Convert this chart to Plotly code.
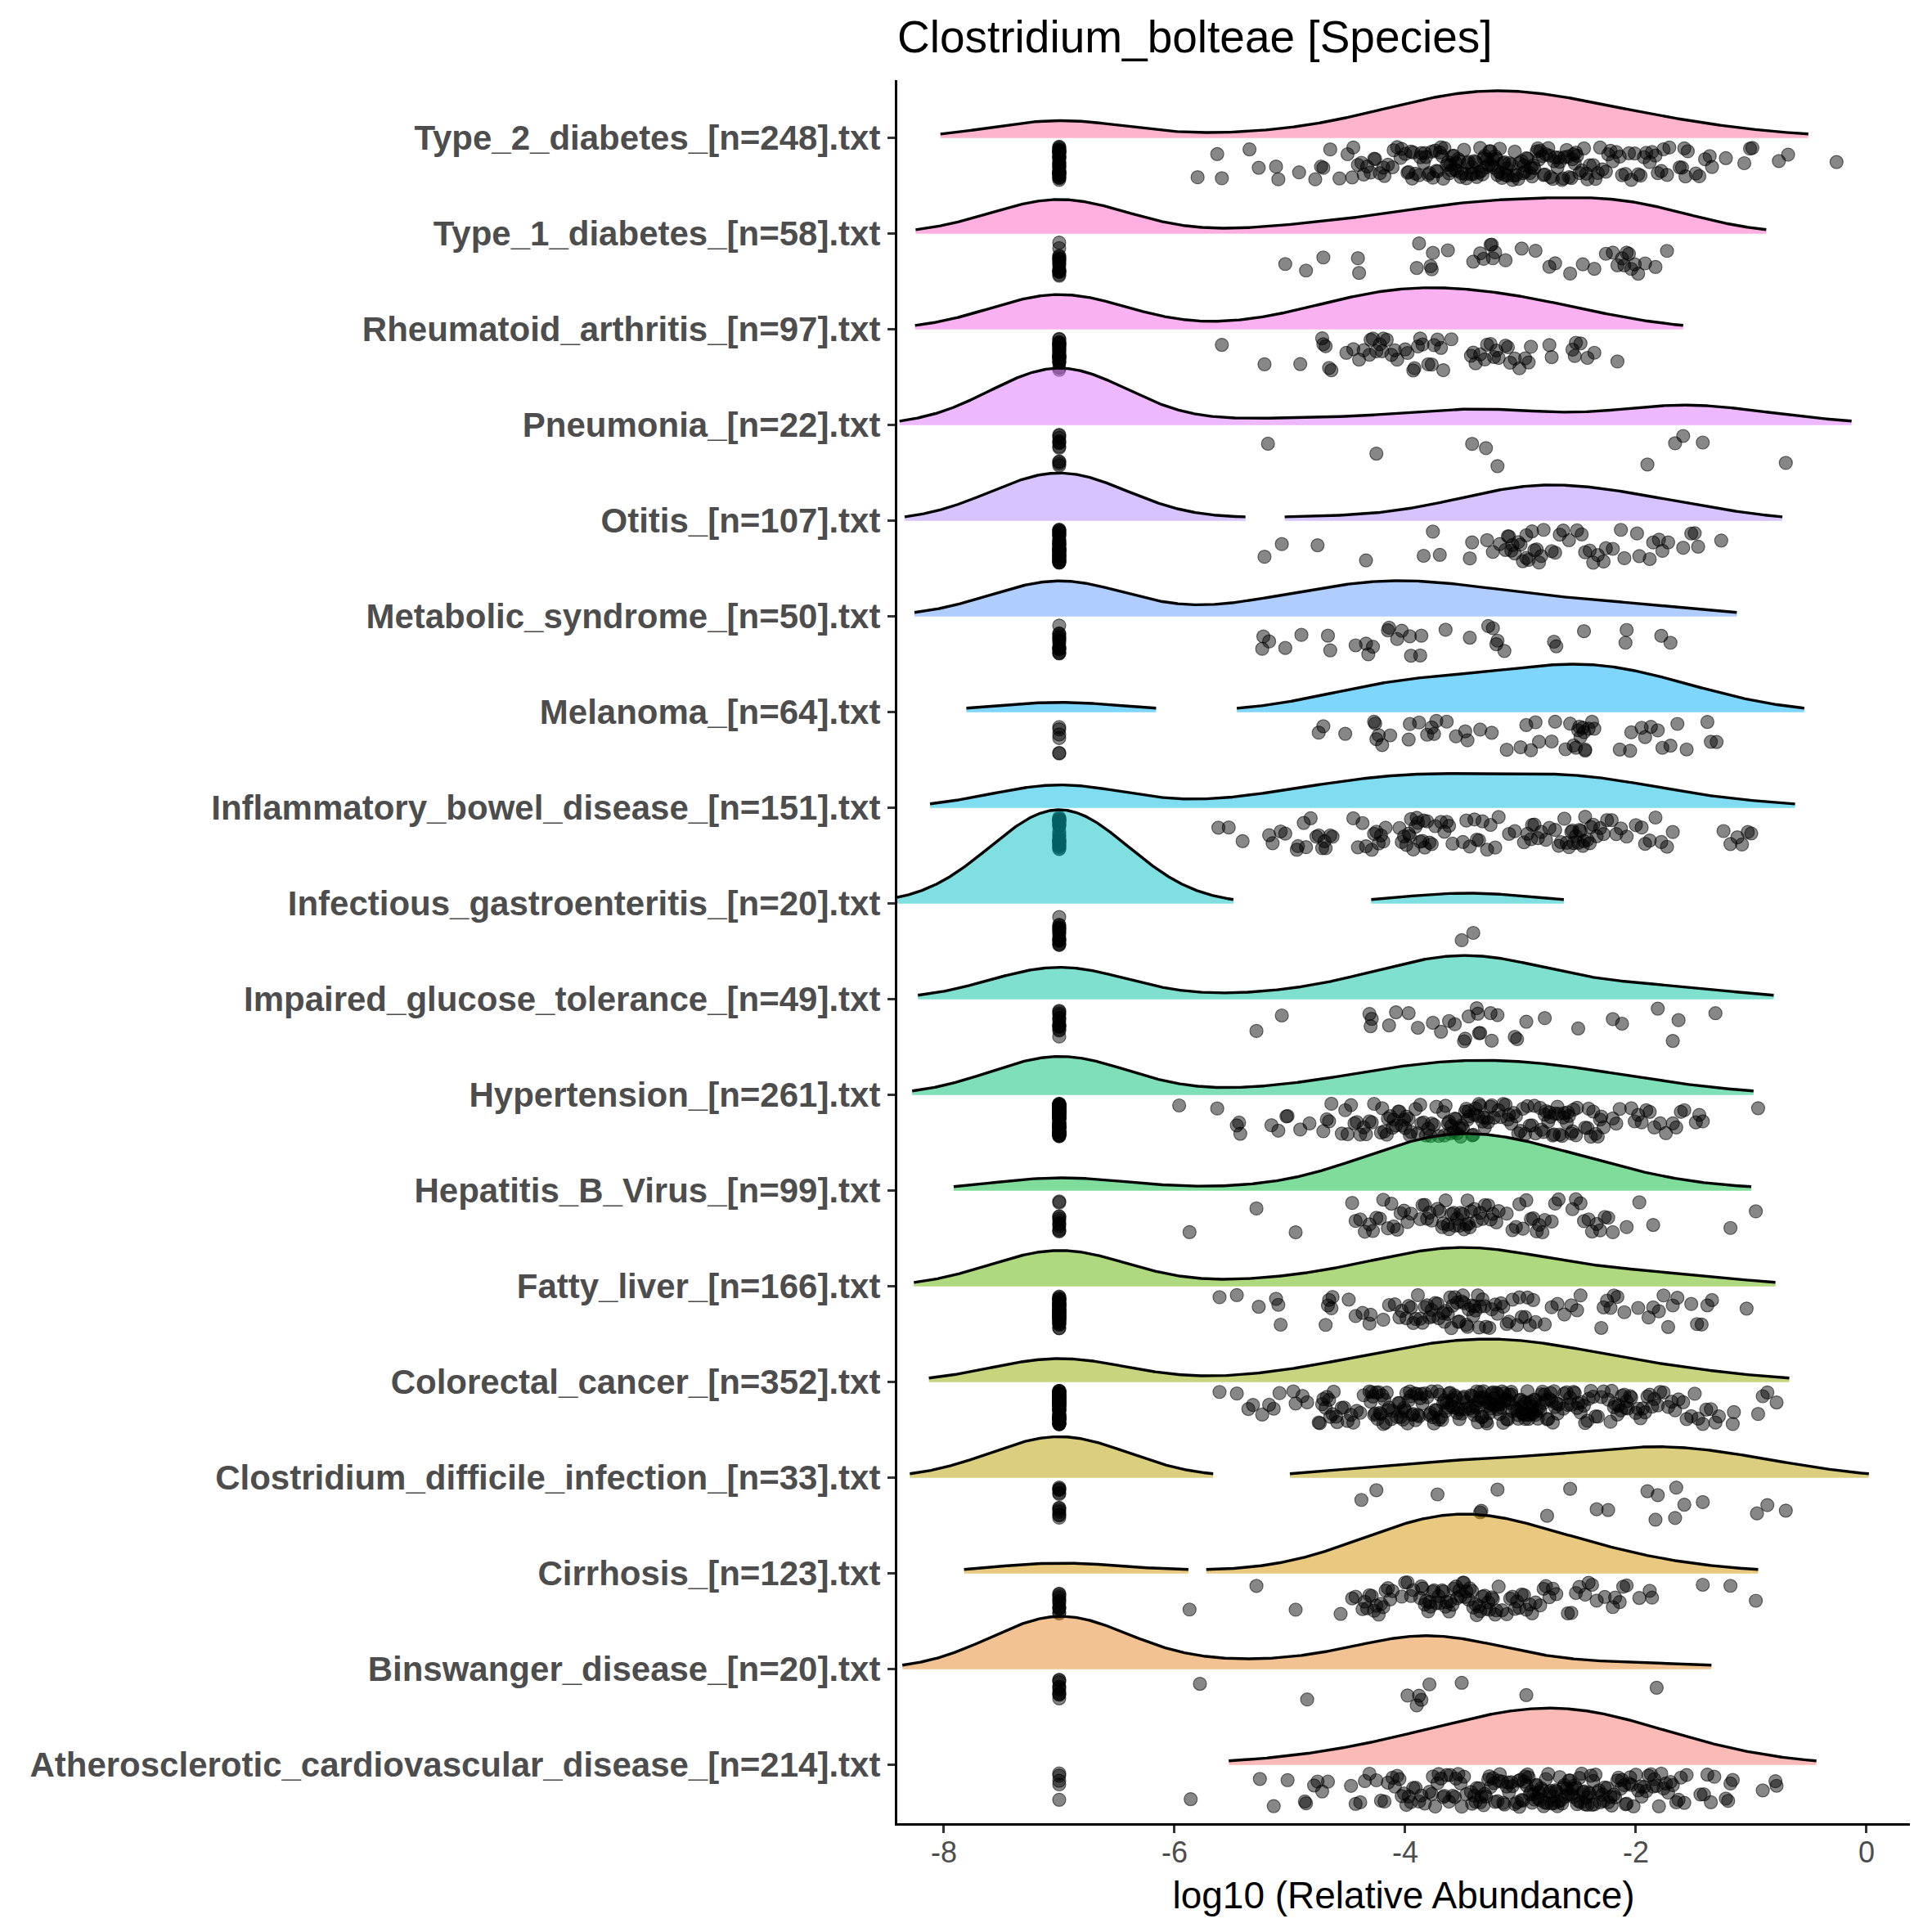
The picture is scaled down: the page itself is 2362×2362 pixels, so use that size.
import math
import numpy as np
import plotly.graph_objects as go

# groups in factor order: first one is drawn at the bottom
groups = ["Atherosclerotic_cardiovascular_disease", "Binswanger_disease", "Cirrhosis",
          "Clostridium_difficile_infection", "Colorectal_cancer", "Fatty_liver",
          "Hepatitis_B_Virus", "Hypertension", "Impaired_glucose_tolerance",
          "Infectious_gastroenteritis", "Inflammatory_bowel_disease", "Melanoma",
          "Metabolic_syndrome", "Otitis", "Pneumonia", "Rheumatoid_arthritis",
          "Type_1_diabetes", "Type_2_diabetes"]
n_samples = [214, 20, 123, 33, 352, 166, 99, 261, 49, 20, 151, 64, 50, 107, 22, 97, 58, 248]
# samples with zero abundance (plotted at log10 = -7)
n_zero = [5, 10, 12, 13, 79, 57, 12, 96, 15, 18, 33, 6, 17, 49, 12, 32, 19, 41]

# log10 relative abundance of the non-zero samples
athero = [-5.86, -5.26, -5.14, -5.02, -4.87, -4.86, -4.79, -4.76, -4.72, -4.67,
          -4.47, -4.43, -4.39, -4.35, -4.31, -4.25, -4.21, -4.18, -4.15,
          -4.11, -4.09, -4.07, -4.05, -4.03, -4.01, -3.99, -3.97, -3.95, -3.93, -3.91, -3.88, -3.86, -3.83,
          -3.79, -3.77, -3.76, -3.74, -3.72, -3.71, -3.69, -3.67, -3.66, -3.64, -3.62, -3.61, -3.59, -3.57,
          -3.56, -3.54, -3.52, -3.51, -3.49, -3.47,
          -3.43, -3.42, -3.40, -3.39, -3.38, -3.36, -3.35, -3.34, -3.32, -3.31, -3.30, -3.28, -3.27, -3.26,
          -3.24, -3.23, -3.22, -3.20, -3.19, -3.18, -3.16, -3.15, -3.14, -3.12, -3.11, -3.10, -3.08, -3.07, -3.05,
          -3.03, -3.02, -3.01, -3.00, -2.99, -2.98, -2.97, -2.96, -2.95, -2.94, -2.93, -2.92, -2.91, -2.90,
          -2.89, -2.88, -2.87, -2.86, -2.85, -2.84, -2.83, -2.82, -2.81, -2.80, -2.79, -2.78, -2.77, -2.76,
          -2.75, -2.74, -2.73, -2.72,
          -2.71, -2.70, -2.69, -2.68, -2.67, -2.66, -2.65, -2.64, -2.63, -2.62, -2.61, -2.60, -2.59, -2.58,
          -2.57, -2.56, -2.55, -2.54, -2.53, -2.52, -2.51, -2.50, -2.49, -2.48, -2.47, -2.46, -2.45, -2.44,
          -2.43, -2.42, -2.41, -2.40, -2.39, -2.38, -2.37,
          -2.36, -2.35, -2.33, -2.32, -2.31, -2.29, -2.28, -2.27, -2.25, -2.24, -2.22, -2.21, -2.19, -2.18,
          -2.16, -2.15, -2.13, -2.12, -2.10, -2.09, -2.08, -2.06, -2.05, -2.04, -2.02,
          -2.00, -1.98, -1.96, -1.95, -1.93, -1.91, -1.89, -1.87, -1.85, -1.84, -1.82, -1.80, -1.78,
          -1.76, -1.74, -1.72, -1.70, -1.68, -1.65, -1.63, -1.61, -1.58, -1.56,
          -1.44, -1.41, -1.38, -1.35, -1.32, -1.22, -1.20, -1.18, -1.16, -0.90, -0.79, -0.78]
binsw = [-5.78, -4.85, -3.98, -3.90, -3.88, -3.86, -3.79, -3.51, -2.95, -1.82]
cirr = [-5.87, -5.29, -4.95, -4.56, -4.46, -4.43,
        -4.37, -4.35, -4.33, -4.31, -4.29, -4.27, -4.25, -4.23, -4.21, -4.19, -4.17, -4.15, -4.13, -4.11,
        -4.03, -4.00, -3.98, -3.95, -3.93,
        -3.87, -3.86, -3.85, -3.83, -3.82, -3.80, -3.79, -3.78, -3.76, -3.75, -3.73,
        -3.71, -3.70, -3.68, -3.67, -3.65, -3.64, -3.62, -3.61, -3.59, -3.58, -3.56, -3.55, -3.53, -3.52,
        -3.50, -3.49, -3.48, -3.47,
        -3.45, -3.44, -3.42, -3.41, -3.39, -3.38, -3.36, -3.35, -3.33, -3.31, -3.30, -3.28, -3.27, -3.25,
        -3.24, -3.22, -3.21, -3.19, -3.16,
        -3.12, -3.09, -3.07, -3.05, -3.03, -3.01, -2.99, -2.97, -2.95, -2.92, -2.90, -2.87,
        -2.83, -2.80, -2.78, -2.75, -2.72, -2.69, -2.59, -2.56, -2.52, -2.49, -2.44, -2.41, -2.38,
        -2.34, -2.27, -2.20, -2.18, -2.14, -2.11, -2.08, -1.97, -1.88, -1.86, -1.42, -1.18, -0.96]
cdi = [-4.38, -4.25, -3.72, -3.35, -3.34, -3.20, -2.77, -2.57, -2.34, -2.24,
       -1.90, -1.83, -1.81, -1.66, -1.65, -1.58, -1.42, -0.95, -0.86, -0.70]
crc = [-5.61, -5.46, -5.36, -5.32, -5.24, -5.18, -5.14, -5.09, -4.97, -4.95, -4.89, -4.85,
       -4.75, -4.74, -4.72, -4.71, -4.69, -4.68, -4.66, -4.65, -4.63, -4.62, -4.60, -4.59,
       -4.55, -4.53, -4.50, -4.47, -4.45, -4.42, -4.39, -4.36,
       -4.31, -4.30, -4.29, -4.28, -4.27, -4.26, -4.25, -4.24, -4.23, -4.22, -4.21, -4.20, -4.19, -4.18,
       -4.17, -4.16, -4.15, -4.14, -4.12, -4.11,
       -4.07, -4.06, -4.05, -4.04, -4.03, -4.02, -4.01, -4.00, -3.99, -3.98, -3.97, -3.96, -3.95, -3.94,
       -3.93, -3.92, -3.91, -3.90, -3.89, -3.88, -3.87, -3.86, -3.85, -3.83,
       -3.81, -3.79, -3.78, -3.77, -3.76, -3.75, -3.74, -3.73, -3.72, -3.71, -3.70, -3.69, -3.68, -3.67,
       -3.66, -3.65, -3.64, -3.63, -3.62, -3.61, -3.60, -3.59, -3.58, -3.57, -3.56, -3.55, -3.54, -3.53,
       -3.52, -3.51, -3.50, -3.49, -3.48, -3.47,
       -3.44, -3.43, -3.42, -3.41, -3.41, -3.40, -3.39, -3.38, -3.38, -3.37, -3.36, -3.35, -3.35, -3.34,
       -3.33, -3.32, -3.32, -3.31, -3.30, -3.29, -3.29, -3.28, -3.27, -3.26, -3.26, -3.25, -3.24, -3.23,
       -3.23, -3.22, -3.21, -3.20, -3.20, -3.19, -3.18, -3.17, -3.17, -3.16, -3.15, -3.14, -3.14, -3.13,
       -3.12, -3.11, -3.11, -3.10, -3.09, -3.08, -3.08, -3.07, -3.05, -3.02,
       -3.03, -3.02, -3.01, -3.00, -2.99, -2.99, -2.98, -2.97, -2.96, -2.96, -2.95, -2.94, -2.93, -2.93,
       -2.92, -2.91, -2.90, -2.90, -2.89, -2.88, -2.87, -2.87, -2.86, -2.85, -2.84, -2.83, -2.82, -2.81,
       -2.80, -2.79, -2.78, -2.77, -2.76, -2.75, -2.74, -2.73, -2.72, -2.71, -2.70, -2.69, -2.68, -2.67,
       -2.63, -2.62, -2.60, -2.59, -2.57, -2.56, -2.54, -2.53, -2.51, -2.50, -2.48, -2.47, -2.45, -2.44,
       -2.42, -2.41, -2.39, -2.37, -2.35, -2.33, -2.30, -2.28,
       -2.24, -2.22, -2.21, -2.19, -2.18, -2.16, -2.15, -2.13, -2.12, -2.10, -2.09, -2.08, -2.07, -2.05, -2.04,
       -2.00, -1.98, -1.96, -1.94, -1.92, -1.90, -1.88, -1.86, -1.84, -1.81, -1.79, -1.76,
       -1.72, -1.69, -1.66, -1.63, -1.59, -1.56, -1.52, -1.49, -1.46, -1.42, -1.39, -1.35, -1.31, -1.28,
       -1.16, -1.15, -0.94, -0.90, -0.86, -0.78]
fatty = [-5.61, -5.46, -5.27, -5.12, -5.10, -5.08, -4.69, -4.67, -4.66, -4.64, -4.63,
         -4.49, -4.43, -4.37, -4.31, -4.30, -4.19, -4.14, -4.09, -4.05, -4.03,
         -3.99, -3.97, -3.95, -3.93, -3.91, -3.89, -3.87, -3.85, -3.83, -3.81, -3.79, -3.77, -3.76,
         -3.74, -3.72, -3.71,
         -3.67, -3.66, -3.65, -3.63, -3.61, -3.60, -3.59, -3.57, -3.55, -3.54, -3.53, -3.51, -3.50,
         -3.49, -3.47, -3.46, -3.45, -3.43, -3.41, -3.40, -3.39, -3.37, -3.36, -3.35, -3.33, -3.31, -3.30,
         -3.27, -3.25, -3.22, -3.20, -3.17, -3.15, -3.12, -3.10, -3.07,
         -3.03, -3.01, -2.99, -2.96, -2.94, -2.92, -2.89, -2.87,
         -2.79, -2.73, -2.68, -2.62, -2.56, -2.51, -2.48,
         -2.30, -2.28, -2.25, -2.22, -2.19, -2.16, -2.10, -1.98,
         -1.89, -1.85, -1.80, -1.76, -1.72, -1.68, -1.64, -1.52, -1.47, -1.43, -1.38, -1.34, -1.04]
hepb = [-5.87, -5.29, -4.95, -4.46, -4.43, -4.39, -4.35, -4.31, -4.28, -4.25, -4.22, -4.19,
        -4.15, -4.12, -4.10, -4.07, -4.04, -4.01, -3.98, -3.95,
        -3.87, -3.85, -3.83, -3.81, -3.79, -3.77,
        -3.72, -3.70, -3.68, -3.67, -3.65, -3.63, -3.62, -3.60, -3.58, -3.57, -3.55, -3.53, -3.52,
        -3.50, -3.49, -3.47, -3.46, -3.45, -3.44, -3.43,
        -3.40, -3.38, -3.35, -3.33, -3.31, -3.28, -3.26, -3.24, -3.21, -3.19,
        -3.12, -3.07, -3.04, -3.01, -2.98, -2.95, -2.91, -2.89, -2.86, -2.84, -2.81, -2.79,
        -2.73, -2.70, -2.67, -2.55, -2.52, -2.48, -2.45, -2.41, -2.38,
        -2.34, -2.31, -2.27, -2.24, -2.20, -2.08, -1.97, -1.85, -1.18, -0.96]
hyper = [-5.96, -5.63, -5.46, -5.44, -5.43, -5.16, -5.10, -5.03, -5.02, -4.91, -4.83, -4.71,
         -4.68, -4.66, -4.64,
         -4.55, -4.52, -4.50, -4.47, -4.44, -4.42, -4.39, -4.36, -4.34, -4.31, -4.29, -4.27,
         -4.21, -4.20, -4.18, -4.16, -4.15, -4.13, -4.11, -4.10, -4.08, -4.06, -4.05, -4.03,
         -4.01, -4.00, -3.99, -3.97, -3.96, -3.95,
         -3.91, -3.89, -3.87, -3.86, -3.84, -3.82, -3.80, -3.78, -3.77, -3.75, -3.73, -3.71,
         -3.67, -3.66, -3.65, -3.63, -3.62, -3.61, -3.60, -3.58, -3.57, -3.56, -3.55, -3.53,
         -3.52, -3.51, -3.50, -3.48, -3.47, -3.46, -3.45, -3.44, -3.42, -3.41, -3.40, -3.39,
         -3.37, -3.36, -3.35, -3.33, -3.32, -3.31, -3.29, -3.28, -3.26, -3.25, -3.23,
         -3.19, -3.17, -3.15, -3.13, -3.11, -3.10, -3.08, -3.06, -3.04, -3.02, -3.00, -2.98,
         -2.96, -2.94, -2.92, -2.90, -2.88, -2.87,
         -2.83, -2.82, -2.80, -2.79, -2.78, -2.76, -2.75, -2.74, -2.72, -2.71, -2.70, -2.68,
         -2.67, -2.66, -2.64, -2.63, -2.62, -2.60, -2.59, -2.58, -2.56, -2.55, -2.54, -2.52, -2.51,
         -2.44, -2.42, -2.41, -2.39, -2.37, -2.35, -2.33, -2.31, -2.30, -2.28,
         -2.20, -2.17, -2.14, -2.04, -2.01, -1.98, -1.95, -1.91, -1.88, -1.84, -1.79, -1.74,
         -1.68, -1.65, -1.61, -1.58, -1.48, -1.45, -1.42, -0.94]
impaired = [-5.29, -5.07, -4.31, -4.30, -4.29, -4.14, -4.08, -3.97, -3.89, -3.76, -3.69, -3.62,
            -3.57, -3.49, -3.48, -3.45, -3.38, -3.37, -3.36, -3.35, -3.26, -3.25, -3.20, -3.05,
            -3.03, -2.95, -2.79, -2.50, -2.20, -2.12, -1.81, -1.68, -1.63, -1.31]
infect = [-3.51, -3.41]
ibd = [-5.62, -5.53, -5.41, -5.18,
       -5.15, -5.08, -5.04, -4.94, -4.93, -4.88, -4.86, -4.82, -4.77, -4.75, -4.72, -4.70, -4.69,
       -4.65, -4.63,
       -4.45, -4.41, -4.37, -4.34, -4.29, -4.27, -4.25, -4.23, -4.21, -4.19, -4.17,
       -4.05, -4.03, -4.01, -3.99, -3.97, -3.96, -3.95, -3.93, -3.91, -3.90, -3.89, -3.87, -3.85,
       -3.84, -3.83, -3.81, -3.79, -3.77, -3.74,
       -3.69, -3.66, -3.64, -3.62, -3.59, -3.50,
       -3.47, -3.44, -3.40, -3.38, -3.36, -3.33, -3.29, -3.26, -3.22, -3.19, -3.10,
       -3.05, -2.97, -2.94, -2.91, -2.90, -2.88, -2.85, -2.82, -2.78, -2.75, -2.70,
       -2.67, -2.65, -2.62, -2.60, -2.58, -2.56, -2.55, -2.54, -2.52, -2.50, -2.49, -2.48, -2.46,
       -2.45, -2.44, -2.42, -2.40, -2.39, -2.37, -2.34, -2.31, -2.28, -2.25, -2.21, -2.17, -2.13, -2.08,
       -2.00, -1.95, -1.92, -1.88, -1.83, -1.78, -1.73, -1.68,
       -1.24, -1.18, -1.12, -1.08, -1.03, -1.00]
melanoma = [-4.75, -4.71, -4.52, -4.27, -4.26, -4.25, -4.23, -4.20, -4.13, -3.97, -3.96, -3.88,
            -3.81, -3.77, -3.75, -3.73, -3.64, -3.56, -3.48, -3.46, -3.35, -3.25, -3.12, -3.00,
            -2.95, -2.91, -2.87, -2.84, -2.73, -2.70, -2.61, -2.57, -2.54, -2.52, -2.50, -2.49,
            -2.48, -2.46, -2.45, -2.44, -2.44, -2.41, -2.38, -2.36, -2.14, -2.05, -2.04, -1.95,
            -1.92, -1.87, -1.81, -1.77, -1.70, -1.64, -1.56, -1.38, -1.35, -1.30]
metab = [-5.23, -5.24, -5.18, -5.04, -4.90, -4.67, -4.65, -4.43, -4.32, -4.34, -4.28, -4.15,
         -4.14, -4.07, -4.03, -3.96, -3.95, -3.87, -3.86, -3.65, -3.44, -3.28, -3.24, -3.21,
         -3.20, -3.14, -2.71, -2.69, -2.45, -2.08, -2.09, -1.78, -1.70]
otitis = [-5.22, -5.07, -4.76, -4.34, -3.84, -3.76, -3.70, -3.44, -3.42, -3.29, -3.24, -3.18,
          -3.13, -3.11, -3.10, -3.08, -3.07, -3.05, -3.02,
          -3.00, -2.98, -2.95, -2.95, -2.93, -2.90, -2.88, -2.86, -2.84, -2.82, -2.80,
          -2.73, -2.70, -2.66, -2.63, -2.58,
          -2.51, -2.47, -2.44, -2.40, -2.37, -2.33, -2.28, -2.26, -2.20,
          -2.13, -2.10, -1.99, -1.97, -1.88, -1.85, -1.80, -1.77, -1.72,
          -1.59, -1.52, -1.49, -1.46, -1.26]
pneu = [-5.19, -4.25, -3.42, -3.30, -3.20, -1.90, -1.66, -1.59, -1.42, -0.70]
rheum = [-5.59, -5.22, -4.91, -4.71, -4.72, -4.69, -4.66, -4.64,
         -4.51, -4.45, -4.40, -4.36, -4.31, -4.30, -4.28, -4.25, -4.22, -4.20, -4.19, -4.16, -4.12,
         -4.09, -4.07,
         -4.00, -3.98, -3.93, -3.92, -3.89, -3.87, -3.85, -3.80, -3.77, -3.75, -3.72, -3.69, -3.67, -3.60,
         -3.43, -3.41, -3.39, -3.35, -3.31, -3.29, -3.26, -3.23, -3.21, -3.19,
         -3.13, -3.11, -3.09, -3.05, -3.01, -2.96, -2.93, -2.91,
         -2.75, -2.73, -2.55, -2.53, -2.52, -2.48, -2.42, -2.36, -2.16]
type1 = [-5.04, -4.86, -4.71, -4.41, -4.40, -3.90, -3.88, -3.78, -3.77, -3.76, -3.63, -3.41,
         -3.35, -3.32, -3.26, -3.25, -3.24, -3.22, -3.13, -2.99, -2.87, -2.75, -2.70, -2.57,
         -2.46, -2.36, -2.26, -2.20, -2.16, -2.12, -2.10, -2.08, -2.06, -2.04, -2.01, -1.98,
         -1.92, -1.83, -1.73]
type2 = [-5.80, -5.63, -5.59, -5.35, -5.27, -5.12, -5.10, -4.92, -4.78, -4.73, -4.71, -4.65, -4.57,
         -4.50, -4.46, -4.45, -4.41, -4.38, -4.36, -4.33, -4.30, -4.27, -4.26, -4.22, -4.19, -4.18,
         -4.15, -4.11, -4.10, -4.07, -4.04, -4.03, -4.00,
         -3.98, -3.97, -3.95, -3.94, -3.93, -3.91, -3.88, -3.87, -3.86, -3.84, -3.83, -3.82, -3.80,
         -3.79, -3.77, -3.76, -3.74, -3.73, -3.72, -3.70, -3.69, -3.68, -3.67, -3.66, -3.64, -3.63,
         -3.62, -3.61, -3.60, -3.59, -3.58, -3.57, -3.56, -3.55, -3.54, -3.53, -3.52, -3.51,
         -3.49, -3.48, -3.47, -3.46, -3.45, -3.43, -3.42, -3.41, -3.40, -3.39, -3.38, -3.36, -3.35,
         -3.34, -3.33, -3.32, -3.31, -3.30, -3.29, -3.28, -3.27, -3.26, -3.25, -3.24, -3.23, -3.22,
         -3.21, -3.20, -3.19, -3.18, -3.17, -3.16, -3.15, -3.14, -3.13, -3.12, -3.11, -3.10, -3.08,
         -3.07, -3.06, -3.05, -3.04, -3.02, -3.01,
         -2.99, -2.98, -2.97, -2.96, -2.95, -2.94, -2.92, -2.91, -2.90, -2.89, -2.88, -2.86, -2.85,
         -2.84, -2.83, -2.81, -2.80, -2.79, -2.78, -2.76, -2.75, -2.74, -2.72, -2.71, -2.70, -2.68,
         -2.67, -2.66, -2.64, -2.63, -2.62, -2.60, -2.59, -2.58, -2.56, -2.55, -2.54, -2.53, -2.52,
         -2.51,
         -2.49, -2.47, -2.45, -2.43, -2.42, -2.40, -2.37, -2.35, -2.33, -2.31, -2.29, -2.26, -2.24,
         -2.22, -2.20, -2.17, -2.14, -2.12, -2.09, -2.06, -2.04, -2.01,
         -1.98, -1.96, -1.93, -1.91, -1.88, -1.86, -1.83, -1.81, -1.78, -1.76, -1.73, -1.71,
         -1.62, -1.60, -1.58, -1.57, -1.55, -1.48, -1.45, -1.40, -1.36, -1.34, -1.22, -1.06, -1.01,
         -0.99, -0.76, -0.68, -0.26]

values = [athero, binsw, cirr, cdi, crc, fatty, hepb, hyper, impaired, infect,
          ibd, melanoma, metab, otitis, pneu, rheum, type1, type2]

x_ticks = [-8, -6, -4, -2, 0]
x_tick_text = ["-8", "-6", "-4", "-2", "0"]

ZERO_LOG = -7      # where zero abundance is placed
BW = 0.60          # joint kernel bandwidth
REL_MIN = 0.042    # ridge parts below this share of the highest peak are dropped
SCALE = 0.98       # height of the highest ridge, in row units
FONT = "Liberation Sans, Arial, sans-serif"

# the page body has an 8px margin, so the figure is 8px smaller than the window
W = H = 2354


def hue_color(h, alpha, c=100.0, l=65.0):
    # ggplot2 default hue palette (polar Luv -> sRGB)
    xn, yn, zn = 95.047, 100.0, 108.883
    hr = math.radians(h)
    u, v = c * math.cos(hr), c * math.sin(hr)
    y = yn * ((l + 16) / 116) ** 3
    den = xn + 15 * yn + 3 * zn
    up = u / (13 * l) + 4 * xn / den
    vp = v / (13 * l) + 9 * yn / den
    x = 9 * y * up / (4 * vp)
    z = y * (12 - 3 * up - 20 * vp) / (4 * vp)
    x, y, z = x / 100, y / 100, z / 100
    rgb = [3.240479 * x - 1.537150 * y - 0.498535 * z,
           -0.969256 * x + 1.875992 * y + 0.041556 * z,
           0.055648 * x - 0.204043 * y + 1.057311 * z]
    out = []
    for t in rgb:
        t = 12.92 * t if t <= 0.0031308 else 1.055 * t ** (1 / 2.4) - 0.055
        out.append(round(255 * min(max(t, 0.0), 1.0)))
    return "rgba(%d,%d,%d,%s)" % (out[0], out[1], out[2], alpha)


grid = np.linspace(-8.45, 1.2, 1931)


def density(sample):
    s = np.asarray(sample, dtype=float)
    z = (grid[:, None] - s[None, :]) / BW
    return np.exp(-0.5 * z * z).sum(axis=1) / (len(s) * BW * math.sqrt(2 * math.pi))


samples = [[ZERO_LOG] * nz + v for nz, v in zip(n_zero, values)]
dens = [density(s) for s in samples]
top = max(d.max() for d in dens)

k = len(groups)
hues = [15 + 360.0 / k * i for i in range(k)]
labels = ["%s_[n=%d].txt" % (g, n) for g, n in zip(groups, n_samples)]

fig = go.Figure()

# top ridge first, so lower ridges overlap the points above them
for i in reversed(range(k)):
    base = i + 1
    rel = dens[i] / top
    keep = rel >= REL_MIN
    hgt = base + rel * SCALE

    runs = []
    start = None
    for j, ok in enumerate(keep):
        if ok and start is None:
            start = j
        if not ok and start is not None:
            runs.append((start, j))
            start = None
    if start is not None:
        runs.append((start, len(keep)))

    fx, fy, lx, ly = [], [], [], []
    for a, b in runs:
        xs = grid[a:b].tolist()
        ys = hgt[a:b].tolist()
        fx += xs + xs[::-1] + [None]
        fy += ys + [base] * len(xs) + [None]
        lx += xs + [None]
        ly += ys + [None]

    fig.add_trace(go.Scatter(x=fx, y=fy, mode="lines", fill="toself",
                             fillcolor=hue_color(hues[i], 0.5),
                             line=dict(width=0, color="rgba(0,0,0,0)"), hoverinfo="skip"))
    fig.add_trace(go.Scatter(x=lx, y=ly, mode="lines",
                             line=dict(color="black", width=3.4), hoverinfo="skip"))

    pts = samples[i]
    jit = [0.09 + 0.35 * ((j * j * 0.7071067811865476 + j * 0.6180339887 + i * 0.29) % 1.0)
           for j in range(len(pts))]
    fig.add_trace(go.Scatter(x=pts, y=[base - o for o in jit], mode="markers",
                             marker=dict(size=16, color="rgba(0,0,0,0.47)",
                                         line=dict(color="rgba(0,0,0,0.55)", width=1.2)),
                             hoverinfo="skip"))

fig.update_layout(
    width=W, height=H,
    margin=dict(l=1089, r=27, t=90, b=133),
    plot_bgcolor="white", paper_bgcolor="white",
    showlegend=False,
    font=dict(family=FONT),
    title=dict(text="Clostridium_bolteae [Species]", x=0, xref="paper", xanchor="left",
               y=1 - 37 / H, yref="container", yanchor="middle",
               font=dict(size=55, color="black", family=FONT)),
)
fig.update_xaxes(range=[-8.404, 0.376], tickvals=x_ticks, ticktext=x_tick_text,
                 showgrid=False, zeroline=False, showline=True, linecolor="black", linewidth=3.3,
                 ticks="outside", ticklen=9, tickwidth=3, tickcolor="#333333",
                 ticklabelstandoff=-7,
                 tickfont=dict(size=36, color="#4D4D4D", family=FONT),
                 title=dict(text="log10 (Relative Abundance)", standoff=17,
                            font=dict(size=46, color="black", family=FONT)))
fig.update_yaxes(range=[0.39, 18.604], tickvals=list(range(1, k + 1)), ticktext=labels,
                 showgrid=False, zeroline=False, showline=True, linecolor="black", linewidth=3.3,
                 ticks="outside", ticklen=9, tickwidth=3, tickcolor="#333333",
                 ticklabelstandoff=0,
                 tickfont=dict(size=42, color="#4D4D4D", family=FONT, weight="bold"))

fig.write_html("out.html")
